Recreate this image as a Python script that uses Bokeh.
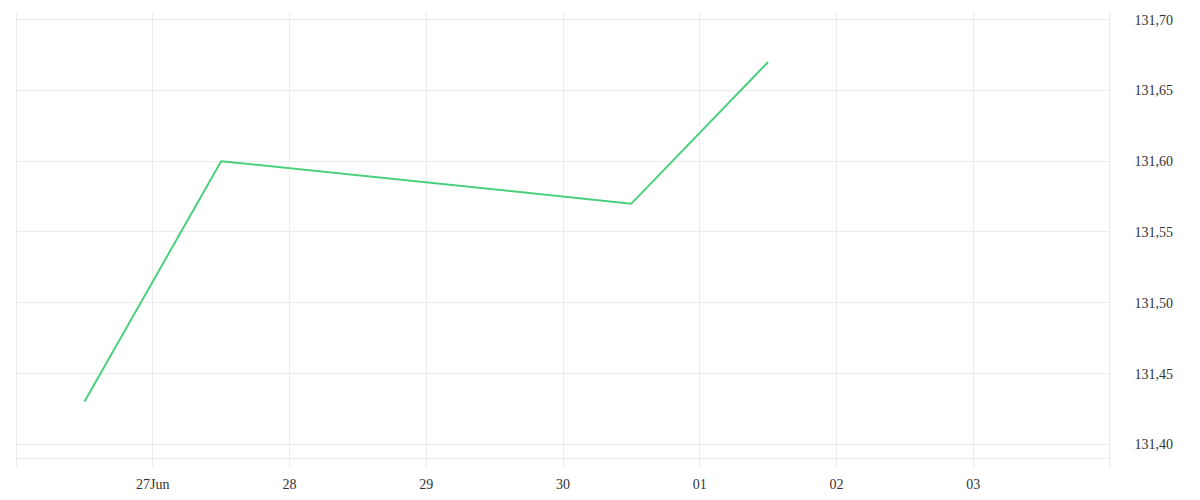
import pandas as pd
from bokeh.plotting import figure
from bokeh.models import FixedTicker, CustomJSTickFormatter, Range1d
from bokeh.embed import file_html
from bokeh.resources import INLINE

# data
dates = ["2025-06-26 12:00", "2025-06-27 12:00", "2025-06-30 12:00", "2025-07-01 12:00"]
values = [131.43, 131.60, 131.57, 131.67]

tick_dates = ["2025-06-26", "2025-06-27", "2025-06-28", "2025-06-29", "2025-06-30",
              "2025-07-01", "2025-07-02", "2025-07-03", "2025-07-04"]
tick_labels = ["", "27Jun", "28", "29", "30", "01", "02", "03", ""]
y_ticks = [131.40, 131.45, 131.50, 131.55, 131.60, 131.65, 131.70]

x = pd.to_datetime(dates)
tick_ms = [pd.Timestamp(d).value / 1e6 for d in tick_dates]
pad = 0.0005 * (tick_ms[-1] - tick_ms[0])

FONT = "Liberation Serif"
GRID = "#ececec"

p = figure(x_axis_type="datetime", frame_width=1095, frame_height=446,
           output_backend="svg", toolbar_location=None,
           x_range=Range1d(tick_ms[0] - pad, tick_ms[-1] + pad),
           y_range=Range1d(131.39, 131.705),
           y_axis_location="right",
           min_border_left=15, min_border_top=12, min_border_right=82, min_border_bottom=34)
p.outline_line_color = None
p.background_fill_color = "white"
p.border_fill_color = "white"

p.line(x, values, line_color="#4cd07d", line_width=2)

xa = p.xaxis[0]
xa.ticker = FixedTicker(ticks=tick_ms)
xa.major_label_overrides = {t: l for t, l in zip(tick_ms, tick_labels)}
xa.axis_line_color = GRID
xa.major_tick_line_color = GRID
xa.major_tick_in = 0
xa.major_tick_out = 9
xa.minor_tick_line_color = None
xa.major_label_standoff = 9
xa.major_label_text_font = FONT
xa.major_label_text_font_size = "14px"
xa.major_label_text_color = "#333333"

ya = p.yaxis[0]
ya.ticker = FixedTicker(ticks=y_ticks)
ya.formatter = CustomJSTickFormatter(code="return tick.toFixed(2).replace('.', ',');")
ya.axis_line_color = None
ya.major_tick_line_color = None
ya.minor_tick_line_color = None
ya.major_label_standoff = 18
ya.major_label_text_font = FONT
ya.major_label_text_font_size = "14px"
ya.major_label_text_color = "#333333"

p.xgrid.ticker = FixedTicker(ticks=tick_ms)
p.ygrid.ticker = FixedTicker(ticks=y_ticks)
p.xgrid.grid_line_color = GRID
p.ygrid.grid_line_color = GRID

open("out.html", "w").write(file_html(p, INLINE))
